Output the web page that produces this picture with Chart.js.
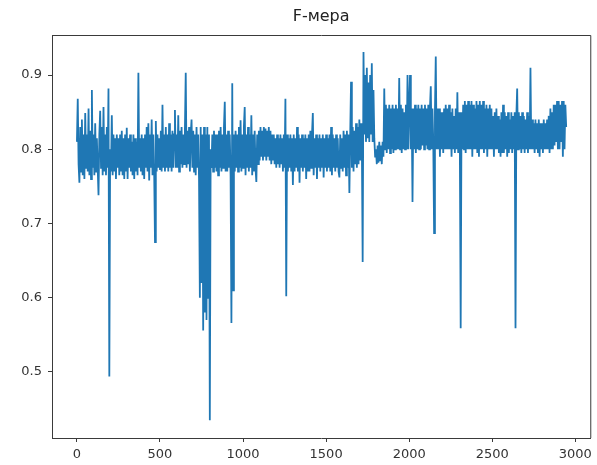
<!DOCTYPE html>
<html>
<head>
<meta charset="utf-8">
<script src="https://cdn.jsdelivr.net/npm/chart.js@4/dist/chart.umd.min.js"></script>
<style>
html,body{margin:0;padding:0;background:#fff;}
#wrap{width:597px;height:465px;}
</style>
</head>
<body>
<div id="wrap"><canvas id="c" width="597" height="465"></canvas></div>
<script>
const chartTitle = "F-мера";
const sampleStep = 5; // one read-off value per 5 iterations
const fScore = [
  0.81, 0.868, 0.78, 0.755, 0.83, 0.77, 0.84, 0.765, 0.82, 0.76, 0.849, 0.775, 0.82, 0.77, 0.855, 0.765, 0.825, 0.76, 0.88, 0.775,
  0.82, 0.765, 0.835, 0.77, 0.815, 0.775, 0.738, 0.82, 0.852, 0.775, 0.83, 0.765, 0.857, 0.77, 0.82, 0.765, 0.83, 0.775, 0.882, 0.494,
  0.80, 0.77, 0.846, 0.765, 0.82, 0.77, 0.815, 0.76, 0.82, 0.775, 0.815, 0.765, 0.82, 0.77, 0.825, 0.765, 0.815, 0.76, 0.82, 0.77,
  0.829, 0.76, 0.815, 0.775, 0.82, 0.77, 0.81, 0.765, 0.82, 0.76, 0.815, 0.77, 0.81, 0.765, 0.903, 0.775, 0.815, 0.77, 0.82, 0.765,
  0.815, 0.76, 0.82, 0.775, 0.83, 0.77, 0.835, 0.758, 0.82, 0.775, 0.84, 0.765, 0.82, 0.77, 0.675, 0.838, 0.77, 0.82, 0.775, 0.815,
  0.772, 0.825, 0.77, 0.86, 0.775, 0.82, 0.77, 0.83, 0.775, 0.82, 0.77, 0.835, 0.775, 0.82, 0.77, 0.825, 0.775, 0.82, 0.853, 0.775,
  0.82, 0.775, 0.846, 0.77, 0.825, 0.78, 0.83, 0.775, 0.82, 0.78, 0.825, 0.903, 0.775, 0.825, 0.78, 0.83, 0.77, 0.82, 0.84, 0.775,
  0.825, 0.77, 0.82, 0.765, 0.83, 0.775, 0.82, 0.76, 0.60, 0.83, 0.62, 0.82, 0.556, 0.83, 0.58, 0.82, 0.57, 0.83, 0.60, 0.82,
  0.435, 0.80, 0.775, 0.82, 0.77, 0.825, 0.775, 0.82, 0.77, 0.82, 0.765, 0.825, 0.775, 0.83, 0.77, 0.82, 0.775, 0.83, 0.864, 0.77,
  0.82, 0.77, 0.825, 0.775, 0.82, 0.765, 0.566, 0.889, 0.61, 0.82, 0.77, 0.825, 0.775, 0.82, 0.77, 0.83, 0.775, 0.839, 0.77, 0.82,
  0.775, 0.83, 0.857, 0.765, 0.82, 0.775, 0.83, 0.77, 0.82, 0.775, 0.846, 0.765, 0.82, 0.77, 0.825, 0.775, 0.756, 0.82, 0.78, 0.825,
  0.785, 0.83, 0.79, 0.825, 0.785, 0.83, 0.79, 0.828, 0.785, 0.825, 0.79, 0.83, 0.785, 0.825, 0.78, 0.82, 0.785, 0.82, 0.78, 0.815,
  0.775, 0.82, 0.78, 0.815, 0.775, 0.82, 0.78, 0.815, 0.77, 0.82, 0.775, 0.868, 0.602, 0.82, 0.77, 0.815, 0.775, 0.82, 0.77, 0.815,
  0.752, 0.82, 0.77, 0.815, 0.775, 0.83, 0.77, 0.82, 0.755, 0.815, 0.775, 0.82, 0.77, 0.815, 0.775, 0.82, 0.76, 0.815, 0.77, 0.82,
  0.77, 0.825, 0.775, 0.82, 0.849, 0.765, 0.815, 0.775, 0.82, 0.76, 0.815, 0.775, 0.82, 0.77, 0.815, 0.775, 0.82, 0.762, 0.815, 0.775,
  0.82, 0.77, 0.815, 0.775, 0.82, 0.77, 0.83, 0.765, 0.82, 0.775, 0.815, 0.77, 0.82, 0.775, 0.815, 0.77, 0.762, 0.82, 0.775, 0.815,
  0.77, 0.825, 0.775, 0.82, 0.765, 0.825, 0.775, 0.82, 0.741, 0.82, 0.891, 0.775, 0.83, 0.77, 0.825, 0.78, 0.835, 0.775, 0.83, 0.78,
  0.84, 0.785, 0.835, 0.81, 0.648, 0.931, 0.82, 0.90, 0.81, 0.91, 0.815, 0.89, 0.81, 0.90, 0.82, 0.916, 0.81, 0.88, 0.815, 0.79,
  0.80, 0.78, 0.805, 0.782, 0.81, 0.785, 0.805, 0.78, 0.81, 0.79, 0.882, 0.80, 0.86, 0.795, 0.855, 0.80, 0.86, 0.795, 0.855, 0.80,
  0.86, 0.795, 0.855, 0.80, 0.86, 0.80, 0.855, 0.80, 0.896, 0.80, 0.86, 0.795, 0.855, 0.80, 0.85, 0.80, 0.86, 0.80, 0.90, 0.80,
  0.86, 0.90, 0.80, 0.855, 0.729, 0.855, 0.80, 0.86, 0.795, 0.855, 0.80, 0.86, 0.80, 0.855, 0.80, 0.86, 0.805, 0.855, 0.80, 0.86,
  0.805, 0.855, 0.80, 0.86, 0.80, 0.855, 0.885, 0.80, 0.855, 0.81, 0.687, 0.85, 0.925, 0.80, 0.855, 0.80, 0.855, 0.79, 0.85, 0.80,
  0.85, 0.795, 0.855, 0.80, 0.86, 0.80, 0.855, 0.80, 0.86, 0.80, 0.85, 0.79, 0.855, 0.80, 0.845, 0.795, 0.855, 0.80, 0.877, 0.795,
  0.85, 0.80, 0.559, 0.85, 0.80, 0.86, 0.80, 0.865, 0.795, 0.86, 0.80, 0.865, 0.80, 0.86, 0.80, 0.865, 0.79, 0.86, 0.80, 0.855,
  0.80, 0.865, 0.795, 0.86, 0.79, 0.865, 0.80, 0.86, 0.80, 0.865, 0.795, 0.855, 0.80, 0.86, 0.79, 0.855, 0.80, 0.86, 0.80, 0.855,
  0.80, 0.845, 0.79, 0.85, 0.80, 0.855, 0.80, 0.845, 0.795, 0.84, 0.79, 0.85, 0.795, 0.86, 0.795, 0.85, 0.80, 0.845, 0.79, 0.85,
  0.795, 0.84, 0.80, 0.85, 0.795, 0.845, 0.80, 0.85, 0.559, 0.845, 0.882, 0.80, 0.85, 0.80, 0.845, 0.795, 0.85, 0.80, 0.845, 0.795,
  0.84, 0.80, 0.85, 0.795, 0.845, 0.80, 0.91, 0.80, 0.84, 0.80, 0.835, 0.795, 0.84, 0.80, 0.835, 0.795, 0.84, 0.79, 0.835, 0.80,
  0.835, 0.795, 0.84, 0.80, 0.835, 0.80, 0.84, 0.80, 0.845, 0.795, 0.855, 0.80, 0.85, 0.80, 0.86, 0.805, 0.86, 0.81, 0.865, 0.80,
  0.865, 0.80, 0.86, 0.81, 0.865, 0.79, 0.865, 0.80, 0.86, 0.83
];
const xTickValues = [0, 500, 1000, 1500, 2000, 2500, 3000];
const yTickValues = [0.5, 0.6, 0.7, 0.8, 0.9];

const points = fScore.map((v, i) => ({x: i * sampleStep, y: v}));

const axisColor = '#3a3a3a';
const tickFont = {family: 'DejaVu Sans', size: 13};

const framePlugin = {
  id: 'frame',
  afterDraw(chart) {
    const {ctx, chartArea: a} = chart;
    ctx.save();
    ctx.strokeStyle = axisColor;
    ctx.lineWidth = 1;
    ctx.beginPath();
    ctx.moveTo(a.left, a.top + 0.5);
    ctx.lineTo(a.right + 0.5, a.top + 0.5);
    ctx.lineTo(a.right + 0.5, a.bottom);
    ctx.stroke();
    ctx.fillStyle = '#222';
    ctx.font = '16px "DejaVu Sans"';
    ctx.textAlign = 'center';
    ctx.textBaseline = 'middle';
    ctx.fillText(chartTitle, (a.left + a.right) / 2, 17);
    ctx.restore();
  }
};

new Chart(document.getElementById('c'), {
  type: 'line',
  data: {
    datasets: [{
      data: points,
      borderColor: '#1f77b4',
      borderWidth: 1.8,
      pointRadius: 0,
      tension: 0,
      fill: false
    }]
  },
  options: {
    responsive: false,
    animation: false,
    devicePixelRatio: 1,
    layout: {padding: {top: 35, right: 5, left: 0, bottom: 0}},
    plugins: {legend: {display: false}, title: {display: false}, tooltip: {enabled: false}},
    scales: {
      x: {
        type: 'linear',
        min: -150,
        max: 3090,
        afterBuildTicks: s => { s.ticks = xTickValues.map(v => ({value: v})); },
        afterFit: s => { s.height = 27; },
        ticks: {font: tickFont, color: '#333', padding: 5, maxRotation: 0, callback: v => String(v)},
        grid: {drawOnChartArea: false, drawTicks: true, tickLength: 4, color: axisColor},
        border: {display: true, color: axisColor}
      },
      y: {
        min: 0.411,
        max: 0.954,
        afterBuildTicks: s => { s.ticks = yTickValues.map(v => ({value: v})); },
        afterFit: s => { s.width = 52; },
        ticks: {font: tickFont, color: '#333', padding: 6, callback: v => v.toFixed(1)},
        grid: {drawOnChartArea: false, drawTicks: true, tickLength: 4, color: axisColor},
        border: {display: true, color: axisColor}
      }
    }
  },
  plugins: [framePlugin]
});
</script>
</body>
</html>
